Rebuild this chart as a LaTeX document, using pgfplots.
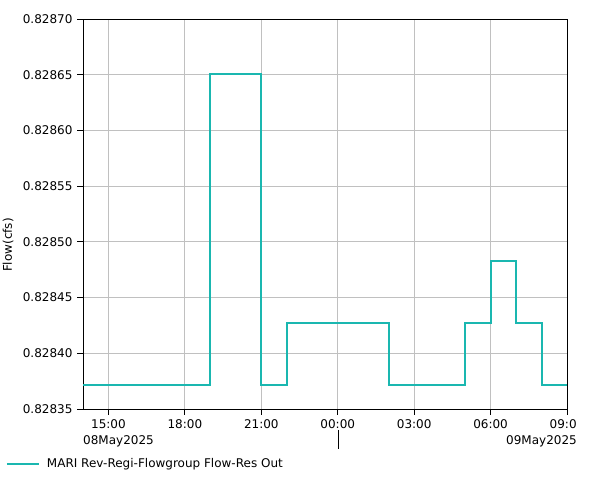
\documentclass[border=0pt]{standalone}
\usepackage{pgfplots}
\pgfplotsset{compat=1.18}
\usepackage{fontspec}
\setmainfont{DejaVu Sans}
\definecolor{serteal}{RGB}{26,183,176}
\definecolor{gridgray}{RGB}{192,192,192}
\begin{document}
\begin{tikzpicture}[font=\fontsize{12bp}{14bp}\selectfont]
\useasboundingbox (0bp,0bp) rectangle (601bp,480bp);
\begin{axis}[
  at={(83bp,71bp)}, anchor=south west,
  scale only axis, width=484bp, height=390bp,
  xmin=14, xmax=33, ymin=0.82835, ymax=0.82870,
  xtick={15,18,21,24,27,30,33},
  xticklabels={15:00,18:00,21:00,00:00,03:00,06:00,09:0\phantom{0}},
  ytick={0.82835,0.8284,0.82845,0.8285,0.82855,0.8286,0.82865,0.8287},
  yticklabels={0.82835,0.82840,0.82845,0.82850,0.82855,0.82860,0.82865,0.82870},
  /pgf/number format/assume math mode=true,
  tick pos=left, tick align=outside,
  major tick length=6bp,
  every tick/.style={black, line width=0.8bp},
  grid=major,
  major grid style={gridgray, line width=0.8bp},
  axis line style={black, line width=0.8bp},
  xticklabel style={yshift=-1bp},
  yticklabel style={xshift=-1bp},
  ylabel={Flow(cfs)},
  every axis y label/.style={at={(-75bp,164bp)}, rotate=90, anchor=center},
  clip=false,
  legend style={draw=none, fill=none, at={(-77bp,-55bp)}, anchor=west,
    inner sep=0pt, outer sep=0pt, column sep=7bp,
    nodes={inner sep=0pt, outer sep=0pt, anchor=west}},
  legend cell align=left,
  legend image code/.code={\draw[#1] (0bp,0bp) -- (32bp,0bp);},
]
\addplot[const plot, serteal, line width=2bp] coordinates {
  (14,0.8283715) (19,0.8286506) (21,0.8283715) (22,0.8284272)
  (26,0.8283715) (29,0.8284272) (30,0.8284828) (31,0.8284272)
  (32,0.8283715) (33,0.8283715)
};
\addlegendentry{MARI Rev-Regi-Flowgroup Flow-Res Out}
\end{axis}
\node[anchor=west, inner sep=0pt] at (83bp,39bp) {08May2025};
\node[anchor=east, inner sep=0pt] at (577bp,39bp) {09May2025};
\draw[black, line width=0.8bp] (338bp,50bp) -- (338bp,31bp);
\end{tikzpicture}
\end{document}
